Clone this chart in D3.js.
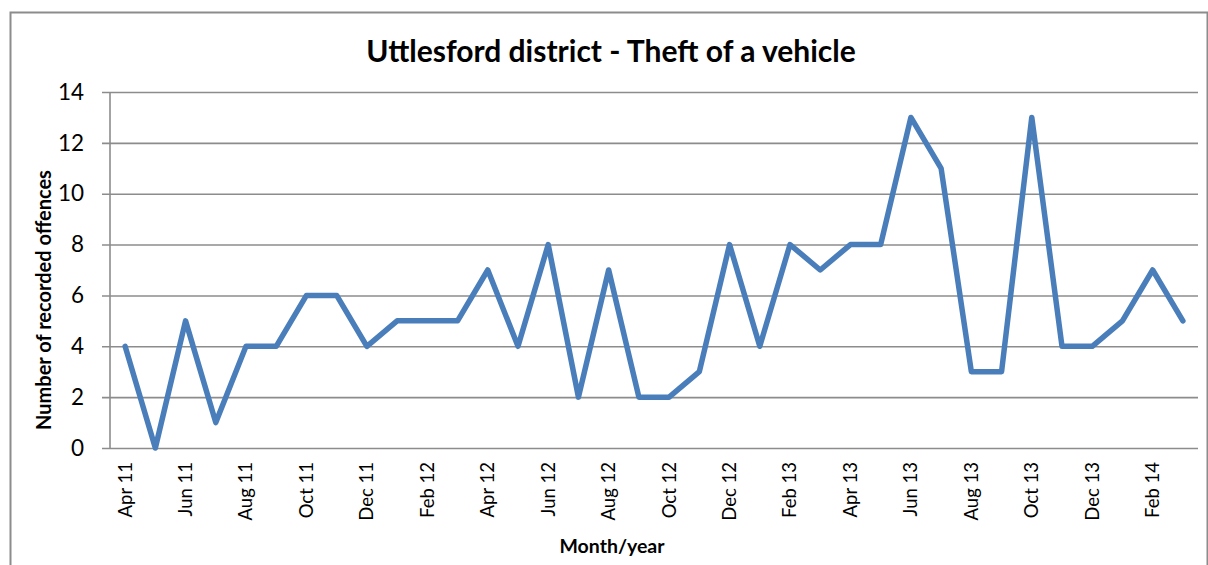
<!DOCTYPE html>
<html>
<head>
<meta charset="utf-8">
<script src="https://cdn.jsdelivr.net/npm/d3@7"></script>
<style>
  body { margin: 0; background: #fff; }
  text { font-family: Lato, "Open Sans", sans-serif; fill: #000; }
</style>
</head>
<body>
<div id="app"></div>
<script>
// data
const months = [
  "Apr 11", "May 11", "Jun 11", "Jul 11", "Aug 11", "Sep 11", "Oct 11", "Nov 11", "Dec 11",
  "Jan 12", "Feb 12", "Mar 12", "Apr 12", "May 12", "Jun 12", "Jul 12", "Aug 12", "Sep 12",
  "Oct 12", "Nov 12", "Dec 12", "Jan 13", "Feb 13", "Mar 13", "Apr 13", "May 13", "Jun 13",
  "Jul 13", "Aug 13", "Sep 13", "Oct 13", "Nov 13", "Dec 13", "Jan 14", "Feb 14", "Mar 14"
]
const offences = [
  4, 0, 5, 1, 4, 4, 6, 6, 4,
  5, 5, 5, 7, 4, 8, 2, 7, 2,
  2, 3, 8, 4, 8, 7, 8, 8, 13,
  11, 3, 3, 13, 4, 4, 5, 7, 5
]
const yTicks = [0, 2, 4, 6, 8, 10, 12, 14]
const shownLabels = months.filter((d, i) => i % 2 === 0)

const dataset = months.map((m, i) => ({ month: m, value: offences[i] }))
const xAccessor = d => d.month
const yAccessor = d => d.value

// dimensions
const dimensions = {
  width: 1208,
  height: 565,
  margin: { top: 92, right: 10, bottom: 117, left: 110 },
}
dimensions.boundedWidth = 1198 - dimensions.margin.left
dimensions.boundedHeight = 448 - dimensions.margin.top

// canvas
const wrapper = d3.select("#app")
  .append("svg")
    .attr("width", dimensions.width)
    .attr("height", dimensions.height)

// chart frame
wrapper.append("path")
    .attr("d", "M10.5,565 L10.5,12.5 L1207.5,12.5 L1207.5,565")
    .attr("fill", "none")
    .attr("stroke", "#8c8c8c")
    .attr("stroke-width", 2)

const bounds = wrapper.append("g")
    .attr("transform", `translate(${dimensions.margin.left},${dimensions.margin.top})`)

// scales
const xScale = d3.scaleBand()
  .domain(months)
  .range([0, dimensions.boundedWidth])

const yScale = d3.scaleLinear()
  .domain([0, 14])
  .range([dimensions.boundedHeight, 0])

// gridlines + y axis
const yAxisGenerator = d3.axisLeft(yScale)
  .tickValues(yTicks)
  .tickSize(-dimensions.boundedWidth)
  .tickPadding(26)

const yAxis = bounds.append("g")
  .call(yAxisGenerator)
yAxis.select(".domain").remove()
yAxis.selectAll(".tick line")
    .attr("x1", -8)
    .attr("stroke", "#8c8c8c")
    .attr("stroke-width", 1.6)
yAxis.selectAll(".tick text")
    .style("font-size", "22.5px")
    .attr("fill", "#000")

bounds.append("line")
    .attr("x1", 0).attr("x2", 0)
    .attr("y1", 0).attr("y2", dimensions.boundedHeight)
    .attr("stroke", "#8c8c8c")
    .attr("stroke-width", 1.6)

// x axis
const xAxisGenerator = d3.axisBottom(xScale)
  .tickValues(shownLabels)
  .tickSize(0)

const xAxis = bounds.append("g")
    .attr("transform", `translate(0,${dimensions.boundedHeight})`)
  .call(xAxisGenerator)
xAxis.select(".domain").remove()
xAxis.selectAll(".tick text")
    .attr("transform", "rotate(-90)")
    .attr("x", -14)
    .attr("y", 0)
    .attr("dy", "0.35em")
    .style("text-anchor", "end")
    .style("font-size", "18.5px")
    .attr("fill", "#000")

// line
const lineGenerator = d3.line()
  .x(d => xScale(xAccessor(d)) + xScale.bandwidth() / 2)
  .y(d => yScale(yAccessor(d)))

bounds.append("path")
    .datum(dataset)
    .attr("d", lineGenerator)
    .attr("fill", "none")
    .attr("stroke", "#4a7ebb")
    .attr("stroke-width", 5.5)
    .attr("stroke-linejoin", "round")
    .attr("stroke-linecap", "round")

// titles
wrapper.append("text")
    .attr("x", 611)
    .attr("y", 62)
    .style("text-anchor", "middle")
    .style("font-size", "30px")
    .style("font-weight", "bold")
    .text("Uttlesford district - Theft of a vehicle")

wrapper.append("text")
    .attr("x", 612)
    .attr("y", 553)
    .style("text-anchor", "middle")
    .style("font-size", "19.5px")
    .style("font-weight", "bold")
    .text("Month/year")

wrapper.append("text")
    .attr("transform", "translate(51,300) rotate(-90)")
    .style("text-anchor", "middle")
    .style("font-size", "20px")
    .style("font-weight", "bold")
    .text("Number of recorded offences")
</script>
</body>
</html>
